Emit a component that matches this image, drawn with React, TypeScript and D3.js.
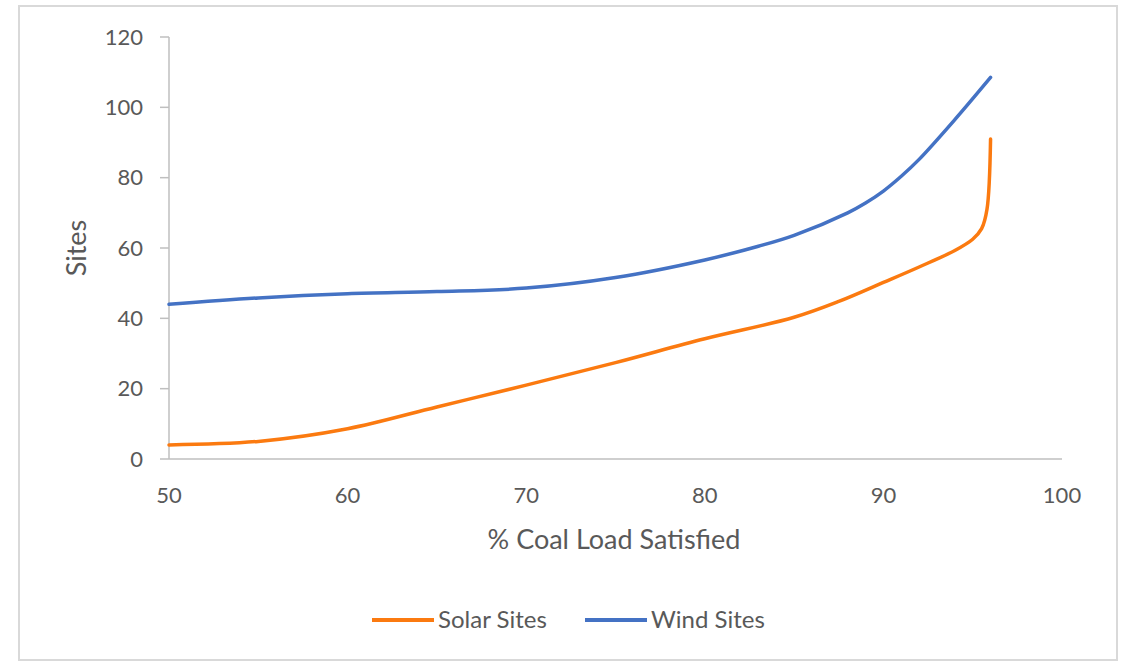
import React from "react";
import * as d3 from "d3";

// % of coal load satisfied vs. number of sites required
const solarX = [50, 55, 60, 65, 70, 75, 80, 85, 87.5, 90, 92, 94, 95, 95.5, 95.8, 96];
const solarY = [4, 5, 8.6, 14.8, 21, 27.4, 34.2, 40.3, 44.8, 50.2, 54.6, 59.3, 62.5, 65.5, 71, 91];

const windX = [50, 55, 60, 65, 70, 75, 80, 83, 85, 88, 89, 90, 91, 92, 94, 96];
const windY = [44, 45.8, 47, 47.6, 48.6, 51.6, 56.6, 60.5, 63.6, 70, 72.8, 76.2, 80.4, 85.2, 96.5, 108.5];

const xTicks = [50, 60, 70, 80, 90, 100];
const yTicks = [0, 20, 40, 60, 80, 100, 120];

const series = [
  { name: "Solar Sites", color: "#FB7A10", xs: solarX, ys: solarY },
  { name: "Wind Sites", color: "#4472C4", xs: windX, ys: windY },
];

const W = 1124;
const H = 662;
const FONT = "Lato, 'Open Sans', sans-serif";
const TEXT = "#595959";
const AXIS = "#BFBFBF";

export default function App() {
  const x = d3.scaleLinear().domain([50, 100]).range([169, 1062]);
  const y = d3.scaleLinear().domain([0, 120]).range([459, 37]);

  const line = d3
    .line<[number, number]>()
    .x((d) => x(d[0]))
    .y((d) => y(d[1]))
    .curve(d3.curveCatmullRom.alpha(0.5));

  return (
    <svg
      width={W}
      height={H}
      style={{ position: "absolute", left: 0, top: 0, background: "#fff" }}
      fontFamily={FONT}
    >
      <rect x={19} y={6} width={1098} height={654} fill="#fff" stroke="#D9D9D9" strokeWidth={2} />

      {/* y axis */}
      <line x1={x(50)} x2={x(50)} y1={y(120)} y2={y(0)} stroke={AXIS} strokeWidth={1.5} />
      {yTicks.map((t) => (
        <g key={"y" + t}>
          <line x1={x(50) - 9} x2={x(50)} y1={y(t)} y2={y(t)} stroke={AXIS} strokeWidth={1.5} />
          <text x={143} y={y(t)} dy="0.35em" textAnchor="end" fontSize={22} fill={TEXT}>
            {t}
          </text>
        </g>
      ))}

      {/* x axis */}
      <line x1={x(50)} x2={x(100)} y1={y(0)} y2={y(0)} stroke={AXIS} strokeWidth={1.5} />
      {xTicks.map((t) => (
        <text key={"x" + t} x={x(t)} y={495} dy="0.35em" textAnchor="middle" fontSize={22} fill={TEXT}>
          {t}
        </text>
      ))}

      <text x={614} y={540} dy="0.35em" textAnchor="middle" fontSize={27} fill={TEXT}>
        % Coal Load Satisfied
      </text>
      <text
        transform={`translate(77,248) rotate(-90)`}
        dy="0.35em"
        textAnchor="middle"
        fontSize={27}
        fill={TEXT}
      >
        Sites
      </text>

      {series.map((s) => (
        <path
          key={s.name}
          d={line(s.xs.map((v, i) => [v, s.ys[i]] as [number, number])) || ""}
          fill="none"
          stroke={s.color}
          strokeWidth={3.5}
          strokeLinecap="round"
        />
      ))}

      {/* legend */}
      {series.map((s, i) => {
        const lx = i === 0 ? 372 : 585;
        return (
          <g key={"lg" + s.name}>
            <line x1={lx} x2={lx + 62} y1={620} y2={620} stroke={s.color} strokeWidth={4} />
            <text x={lx + 66} y={620} dy="0.35em" fontSize={24} fill={TEXT}>
              {s.name}
            </text>
          </g>
        );
      })}
    </svg>
  );
}
